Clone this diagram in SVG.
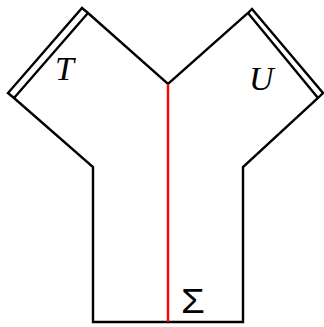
<svg xmlns="http://www.w3.org/2000/svg" width="324" height="327" viewBox="0 0 324 327">
<style>
.k{fill:none;stroke:#000;stroke-width:2.4;stroke-linejoin:miter}
.r{fill:none;stroke:#f00;stroke-width:2.4}
.t{font-family:"Liberation Serif",serif;font-style:italic;font-size:34px;fill:#000}
.s{font-family:"Liberation Sans",sans-serif;font-size:35px;fill:#000}
</style>
<rect width="324" height="327" fill="#fff"/>
<g id="outline">
<path class="k" d="M93,322 V167 L14,98 L8,93 L82,8 L88,13 L168,84 L248,13 L252,9 L323,93 L318,98 L243,167 V322 Z"/>
<path class="k" d="M14,98 L88,13 M248,13 L318,98"/>
</g>
<g id="sigma-line">
<path class="r" d="M168,84 V322"/>
</g>
<g id="labels">
<text class="t" x="55" y="80">T</text>
<text class="t" x="249" y="90">U</text>
<text class="s" x="181" y="313" transform="translate(181 0) scale(1.1 1) translate(-181 0)">Σ</text>
</g>
</svg>
